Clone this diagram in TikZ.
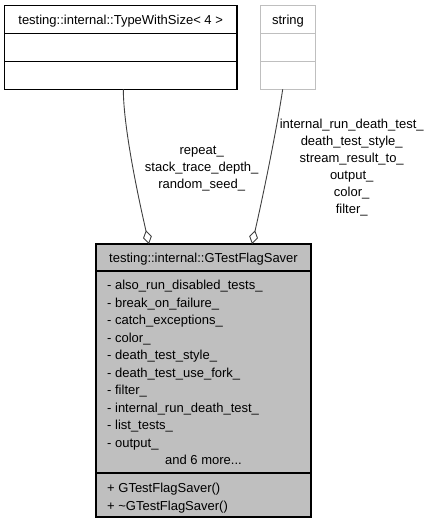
\documentclass[tikz,border=0pt]{standalone}
\usepackage{fontspec}
\setmainfont{Liberation Sans}
\usetikzlibrary{arrows.meta}
\definecolor{boxfill}{HTML}{BFBFBF}
\definecolor{lightborder}{HTML}{BFBFBF}
\definecolor{edgecol}{HTML}{404040}
\begin{document}
\begin{tikzpicture}[x=1pt,y=-1pt,
  umlbox/.style={draw=black, line width=1.1pt, inner sep=0pt, outer sep=0pt},
  lightbox/.style={draw=lightborder, line width=1.1pt, inner sep=0pt, outer sep=0pt},
  txt/.style={font=\fontsize{13}{16}\selectfont, inner sep=0pt, anchor=base},
  ltxt/.style={font=\fontsize{13}{16}\selectfont, inner sep=0pt, anchor=base west},
  aggr/.style={draw=edgecol, line width=0.9pt, {Diamond[open,length=14pt,width=9pt]}-}]
\useasboundingbox (0,0) rectangle (429,525);
% boxes
\node[umlbox, minimum width=232.7pt, minimum height=84pt] (tws) at (120.65,47.3) {};
\draw[black, line width=1.1pt] (4.3,33.7) -- (237,33.7) (4.3,61.7) -- (237,61.7);
\node[txt] (twst) at (120.65,24) {testing::internal::TypeWithSize< 4 >};

\node[lightbox, minimum width=55.4pt, minimum height=84pt] (str) at (288,47.3) {};
\draw[lightborder, line width=1.1pt] (260.3,33.7) -- (315.7,33.7) (260.3,61.7) -- (315.7,61.7);
\node[txt] (strt) at (288,24) {string};

\node[umlbox, fill=boxfill, minimum width=215pt, minimum height=273pt] (gfs) at (203.5,380.5) {};
\draw[black, line width=1.1pt] (96,271) -- (311,271) (96,473) -- (311,473);
\node[txt] (gfst) at (203.5,262) {testing::internal::GTestFlagSaver};
\foreach \t [count=\i from 0] in {also\_run\_disabled\_tests\_, break\_on\_failure\_, catch\_exceptions\_, color\_, death\_test\_style\_, death\_test\_use\_fork\_, filter\_, internal\_run\_death\_test\_, list\_tests\_, output\_}
  \node[ltxt] (attr\i) at (107,289.5+17.5*\i) {- \t};
\node[txt] (more) at (203.5,464) {and 6 more...};
\node[ltxt] (m0) at (107,492.5) {+ GTestFlagSaver()};
\node[ltxt] (m1) at (107,510) {+ \textasciitilde GTestFlagSaver()};

% edges
\draw[aggr] ([xshift=53pt]gfs.north west) .. controls (139.8,204) and (123.5,130) .. ([xshift=119pt]tws.south west);
\draw[aggr] ([xshift=156pt]gfs.north west) .. controls (262.4,199) and (276.7,129.5) .. ([xshift=22.4pt]str.south west);

% edge labels
\foreach \t [count=\i from 0] in {repeat\_, stack\_trace\_depth\_, random\_seed\_}
  \node[txt] (ll\i) at (201.7,154.5+17*\i) {\t};
\foreach \t [count=\i from 0] in {internal\_run\_death\_test\_, death\_test\_style\_, stream\_result\_to\_, output\_, color\_, filter\_}
  \node[txt] (rl\i) at (351.7,128+17*\i) {\t};
\end{tikzpicture}
\end{document}
